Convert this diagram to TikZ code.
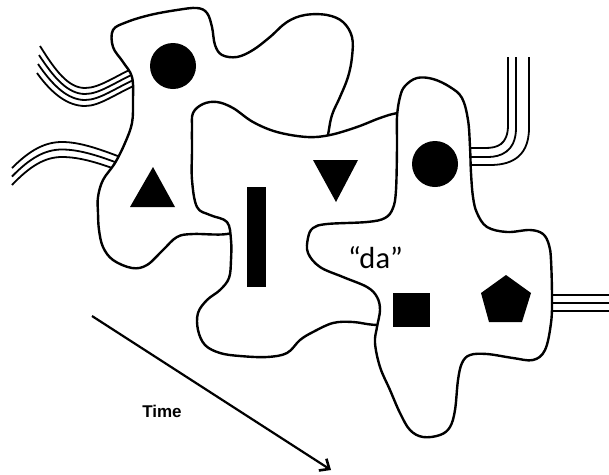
\documentclass[tikz,border=0pt]{standalone}
\usepackage{fontspec}
\usetikzlibrary{arrows.meta}
\newfontfamily\arialfont{Liberation Sans}
\newfontfamily\calfont{Carlito}
\begin{document}
\begin{tikzpicture}[x=1pt,y=-1pt,
  outline/.style={line width=2.4pt, fill=white, draw=black},
  wire/.style={line width=1.8pt, draw=black},
  solid shape/.style={fill=black, draw=none}]
\useasboundingbox (0,0) rectangle (609,474);
\fill[white] (0,0) rectangle (609,474);
% wires A (upper left, four lines)
\foreach \k in {0,1,2,3}{
  \draw[wire] ({40-\k},{46+9*\k}) .. controls ({55-\k},{70+8*\k}) and (68,{88+6*\k}) .. (85,{88+6*\k})
    .. controls (100,{88+6*\k}) and (115,{76+6*\k}) .. (138,{66+6*\k});
}
% wires B (lower left, three lines)
\foreach \k in {0,1,2}{
  \draw[wire] (12,{168+8.5*\k}) .. controls (30,{150+8*\k}) and (45,{142+7.5*\k}) .. (62,{142+7.5*\k})
    .. controls (80,{142+7.5*\k}) and (100,{149+7*\k}) .. (128,{160+7*\k});
}
% back blob
\draw[outline] plot[smooth cycle, tension=0.6] coordinates {
 (113,30) (127,22) (150,15) (177,10) (197,8) (207,13) (212,27) (215,45) (222,55) (237,57)
 (253,50) (270,37) (287,22) (305,15) (327,15) (343,22) (352,37) (352,57) (348,77) (340,97)
 (332,115) (328,135) (322,170) (290,200) (250,225) (227,234) (193,234) (177,237) (163,250)
 (147,265) (132,268) (113,260) (103,247) (99,230) (98,213) (98,197) (103,180) (115,163)
 (125,143) (132,123) (133,100) (132,77) (123,62) (113,47)};
% middle blob
\draw[outline] plot[smooth cycle, tension=0.6] coordinates {
 (193,113) (203,104) (217,102) (233,108) (253,122) (277,132) (307,137) (330,135) (357,127)
 (380,118) (398,113) (430,110) (460,150) (460,300) (420,325) (377,325) (353,322) (333,323)
 (313,332) (300,340) (287,353) (267,357) (240,356) (220,353) (205,345) (198,330) (198,313)
 (207,300) (220,290) (229,278) (231,260) (231,240) (227,222) (210,215) (197,207) (192,180)
 (192,150) (192,128)};
% wires C (upper right)
\draw[wire] (508,57) -- (508,125) .. controls (508,145) and (497,148) .. (485,148) -- (460,148);
\draw[wire] (516,57) -- (516,128) .. controls (516,152) and (500,157) .. (488,157) -- (460,157);
\draw[wire] (529,57) -- (529,128) .. controls (529,160) and (507,165) .. (490,165) -- (460,165);
% wires D (right)
\foreach \yy in {295,303,311}{
  \draw[wire] (540,\yy) -- (609,\yy);
}
% front blob
\draw[outline] plot[smooth cycle, tension=0.6] coordinates {
 (400,97) (405,86) (417,78) (433,79) (450,87) (462,98) (468,120) (470,147) (471,173)
 (473,197) (477,213) (487,227) (507,232) (530,230) (543,234) (549,245) (551,260) (552,297)
 (551,323) (545,350) (533,360) (513,358) (487,354) (470,355) (462,363) (458,380) (455,410)
 (450,427) (440,435) (423,437) (410,430) (400,413) (390,390) (380,367) (375,343) (377,327)
 (380,310) (377,297) (367,287) (343,277) (320,267) (308,253) (308,238) (313,228) (327,224)
 (367,222) (385,218) (393,208) (396,190) (397,147) (397,117)};
% solid shapes
\fill[solid shape] (173,66) circle (23);
\fill[solid shape] (130,207) -- (175,207) -- (153,167) -- cycle;
\fill[solid shape] (247,187) rectangle (266,287);
\fill[solid shape] (313,160) -- (358,160) -- (336,202) -- cycle;
\fill[solid shape] (435,164) circle (23);
\fill[solid shape] (393,293) rectangle (430,327);
\fill[solid shape] (506,275) -- (531,293) -- (522,322) -- (489,322) -- (481,293) -- cycle;
% texts
\node[anchor=base, inner sep=0pt, font=\calfont\fontsize{30.5}{33}\selectfont] (da) at (375.5,268) {“da”};
\node[anchor=base, inner sep=0pt, font=\arialfont\bfseries\fontsize{17}{20}\selectfont] (time) at (162,417) {Time};
% time arrow
\coordinate (ts) at (92,316);
\coordinate (te) at (331,470);
\draw[line width=2.2pt, -{Straight Barb[length=8pt,width=14pt,line width=2.6pt]}] (ts) -- (te);
\end{tikzpicture}
\end{document}
